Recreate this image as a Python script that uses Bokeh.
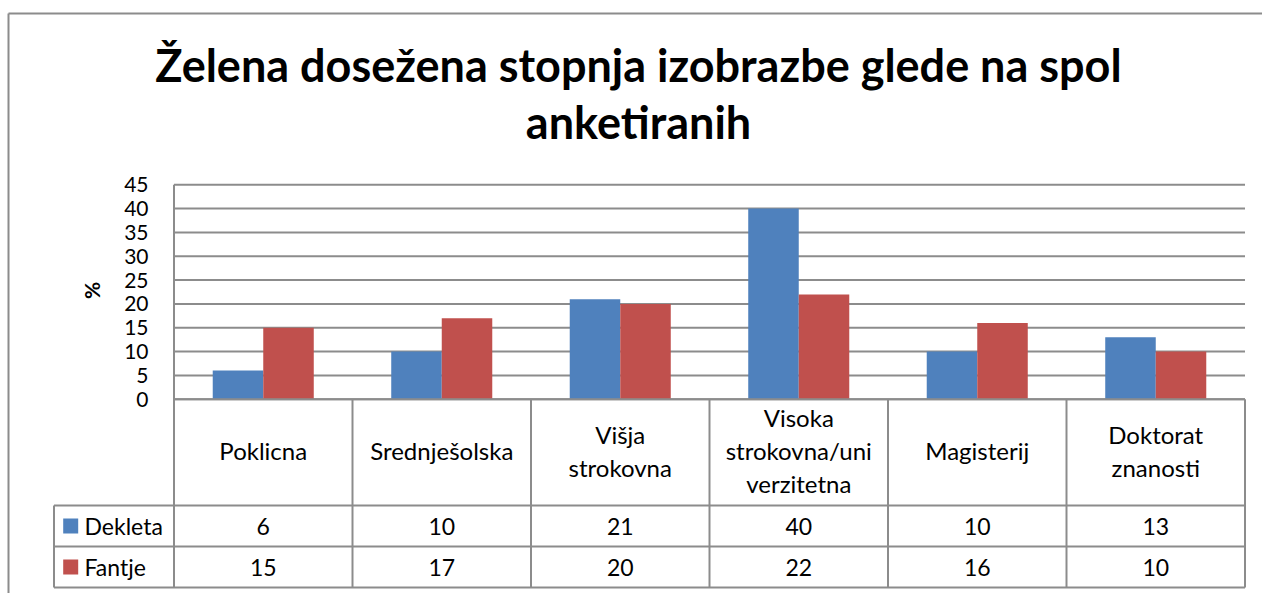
from bokeh.plotting import figure
from bokeh.models import Range1d
from bokeh.core.properties import value
from bokeh.embed import file_html
from bokeh.resources import INLINE

# ---------------- data ----------------
categories = ["Poklicna", "Srednješolska", "Višja strokovna",
              "Visoka strokovna/univerzitetna", "Magisterij", "Doktorat znanosti"]
category_labels = ["Poklicna", "Srednješolska", "Višja\nstrokovna",
                   "Visoka\nstrokovna/uni\nverzitetna", "Magisterij", "Doktorat\nznanosti"]
dekleta = [6, 10, 21, 40, 10, 13]
fantje = [15, 17, 20, 22, 16, 10]
series_names = ["Dekleta", "Fantje"]
y_ticks = [0, 5, 10, 15, 20, 25, 30, 35, 40, 45]
title_lines = ["Želena dosežena stopnja izobrazbe glede na spol", "anketiranih"]
y_label = "%"

# ---------------- layout (page pixels) ----------------
W, H = 1262, 593
PAGE_OFF = 0
X0_PX = 173.5          # x = 0 (left of plot area)
COL_PX = 178.5         # one category column
Y0_PX = 398.7          # y = 0
UNIT_PX = (398.7 - 184.3) / 45.0

def xd(px):
    return (px - X0_PX) / COL_PX

def yd(py):
    return (Y0_PX - py) / UNIT_PX

BLUE = "#4F81BD"
RED = "#C0504D"
GRID = "#8C8C8C"
FONT = "Lato"

n = len(categories)
ymax = y_ticks[-1]
bar_w = 0.283

p = figure(width=W, height=H, output_backend="svg", toolbar_location=None,
           x_range=Range1d(xd(PAGE_OFF), xd(PAGE_OFF + W)),
           y_range=Range1d(yd(PAGE_OFF + H), yd(PAGE_OFF)),
           x_axis_location=None, y_axis_location=None, min_border=0,
           title=None)
p.outline_line_color = None
p.grid.visible = False
p.background_fill_color = "white"
p.border_fill_color = "white"

# outer chart border (top + left)
p.segment(x0=[xd(8), xd(8)], y0=[yd(13), yd(13)],
          x1=[xd(1262), xd(8)], y1=[yd(13), yd(PAGE_OFF + H)],
          line_color=GRID, line_width=2)

# horizontal gridlines
p.segment(x0=[0] * len(y_ticks), y0=y_ticks, x1=[n] * len(y_ticks), y1=y_ticks,
          line_color=GRID, line_width=2)

# table geometry
row_top = yd(505)
row_mid = yd(546)
row_bot = yd(587)
leg_left = xd(53.5)

# bars
xb = [i + 0.5 - bar_w / 2 for i in range(n)]
xr = [i + 0.5 + bar_w / 2 for i in range(n)]
p.vbar(x=xb, top=dekleta, bottom=0, width=bar_w, fill_color=BLUE, line_color=None)
p.vbar(x=xr, top=fantje, bottom=0, width=bar_w, fill_color=RED, line_color=None)

# vertical lines: plot left line and table columns
p.segment(x0=[0], y0=[ymax], x1=[0], y1=[row_bot], line_color=GRID, line_width=2)
p.segment(x0=list(range(1, n + 1)), y0=[0] * n, x1=list(range(1, n + 1)), y1=[row_bot] * n,
          line_color=GRID, line_width=2)
p.segment(x0=[leg_left], y0=[row_top], x1=[leg_left], y1=[row_bot], line_color=GRID, line_width=2)
# horizontal table lines
p.segment(x0=[0, leg_left, leg_left, leg_left], y0=[0, row_top, row_mid, row_bot],
          x1=[n, n, n, n], y1=[0, row_top, row_mid, row_bot],
          line_color=GRID, line_width=2)

# y tick labels
p.text(x=[xd(148)] * len(y_ticks), y=y_ticks, text=[str(t) for t in y_ticks],
       text_align="right", text_baseline="middle", text_font=value(FONT),
       text_font_size="21px", text_color="black")

# y axis label
p.text(x=[xd(91)], y=[yd(290)], text=[y_label], angle=1.5708,
       text_align="center", text_baseline="middle", text_font=value(FONT),
       text_font_style="bold", text_font_size="21px", text_color="black")

# category labels (multi-line)
LINE_PX = 33
cx, cy, ct = [], [], []
for i, lab in enumerate(category_labels):
    lines = lab.split("\n")
    k = len(lines)
    for j, ln in enumerate(lines):
        off = (j - (k - 1) / 2.0) * LINE_PX
        cx.append(i + 0.5)
        cy.append(yd(450 + off))
        ct.append(ln)
p.text(x=cx, y=cy, text=ct, text_align="center", text_baseline="middle",
       text_font=value(FONT), text_font_size="24px", text_color="black")

# data rows
row_centers = [(row_top + row_mid) / 2, (row_mid + row_bot) / 2]
for vals, yc in zip([dekleta, fantje], row_centers):
    p.text(x=[i + 0.5 for i in range(n)], y=[yc] * n, text=[str(v) for v in vals],
           text_align="center", text_baseline="middle", text_font=value(FONT),
           text_font_size="23px", text_color="black")

# legend keys in table
p.scatter(x=[xd(70.2)] * 2, y=row_centers, marker="square", size=15,
          fill_color=[BLUE, RED], line_color=None)
p.text(x=[xd(84)] * 2, y=row_centers, text=series_names, text_align="left",
       text_baseline="middle", text_font=value(FONT), text_font_size="23px",
       text_color="black")

# title
p.text(x=[xd(638)] * 2, y=[yd(64), yd(121)], text=title_lines, text_align="center",
       text_baseline="alphabetic", text_font=value(FONT), text_font_style="bold",
       text_font_size="45px", text_color="black")

open("out.html", "w").write(file_html(p, INLINE))
